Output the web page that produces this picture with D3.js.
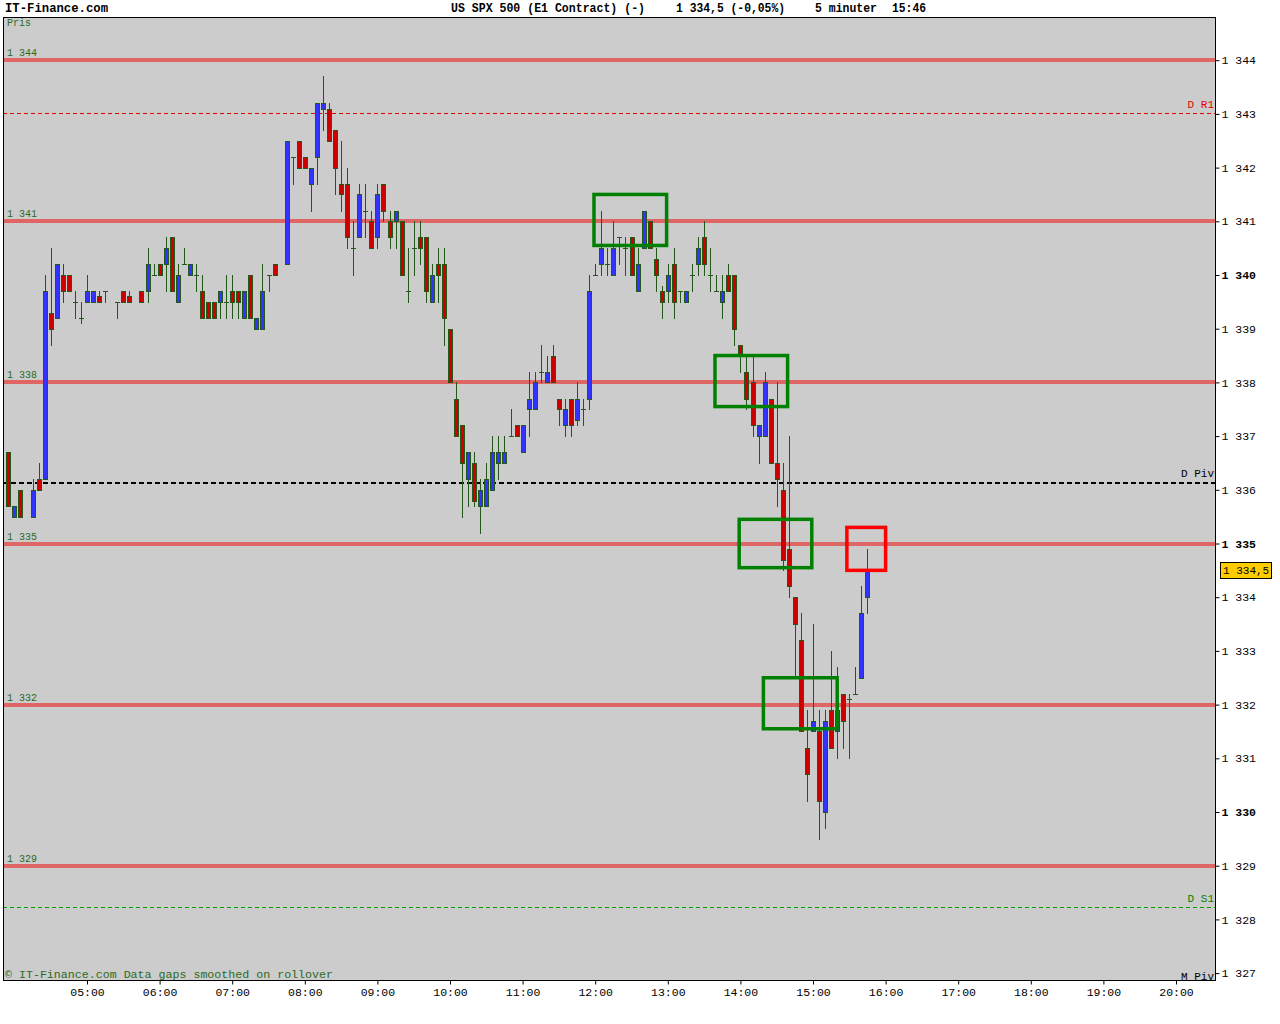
<!DOCTYPE html>
<html><head><meta charset="utf-8">
<script src="https://cdn.jsdelivr.net/npm/d3@7"></script>
<style>body{margin:0;background:#fff}svg{display:block}text{font-family:"Liberation Mono","DejaVu Sans Mono",monospace}</style>
</head><body>
<svg id="c" width="1280" height="1024"></svg>
<script>
// ---- data ----
const candleTimes = ["03:55","04:00","04:05","04:15","04:20","04:25","04:30","04:35","04:40","04:45","04:50","04:55",
"05:00","05:05","05:10","05:15","05:25","05:30","05:35","05:45","05:50","05:55",
"06:00","06:05","06:10","06:15","06:20","06:25","06:30","06:35","06:40","06:45","06:50","06:55",
"07:00","07:05","07:10","07:15","07:20","07:25","07:30","07:35","07:45","07:50","07:55",
"08:00","08:05","08:10","08:15","08:20","08:25","08:30","08:35","08:40","08:45","08:50","08:55",
"09:00","09:05","09:10","09:15","09:20","09:25","09:30","09:35","09:40","09:45","09:50","09:55",
"10:00","10:05","10:10","10:15","10:20","10:25","10:30","10:35","10:40","10:45","10:50","10:55",
"11:00","11:05","11:10","11:15","11:20","11:25","11:30","11:35","11:40","11:45","11:50","11:55",
"12:00","12:05","12:10","12:15","12:20","12:25","12:30","12:35","12:40","12:45","12:50","12:55",
"13:00","13:05","13:10","13:15","13:20","13:25","13:30","13:35","13:40","13:45","13:50","13:55",
"14:00","14:05","14:10","14:15","14:20","14:25","14:30","14:35","14:40","14:45","14:50","14:55",
"15:00","15:05","15:10","15:15","15:20","15:25","15:30","15:35","15:40","15:45"];
const openPrices = [1336.7,1335.5,1336.0,1335.5,1336.2,1336.2,1339.3,1339.2,1340.0,1340.0,1339.5,1339.2,
1339.5,1339.5,1339.6,1339.7,1339.5,1339.7,1339.6,1339.7,1339.7,1340.0,
1340.2,1340.2,1340.7,1339.5,1340.2,1340.0,1340.0,1339.7,1339.5,1339.5,1339.5,1339.5,
1339.7,1339.7,1339.2,1340.0,1339.0,1339.0,1340.0,1340.2,1340.2,1342.2,1342.5,
1342.2,1341.7,1342.2,1343.1,1343.1,1342.7,1341.7,1341.7,1340.5,1340.7,1341.2,1341.0,
1340.7,1341.7,1341.0,1341.0,1341.0,1339.7,1340.5,1340.7,1340.7,1339.5,1340.2,1340.2,
1339.0,1337.7,1337.2,1336.2,1336.5,1335.7,1335.7,1336.0,1336.5,1336.5,1337.0,1337.2,
1336.7,1337.5,1337.5,1338.2,1338.0,1338.5,1337.7,1337.2,1337.7,1337.3,1337.5,1337.7,
1340.0,1340.2,1340.2,1340.0,1340.7,1340.5,1340.7,1339.7,1340.5,1341.0,1340.3,1339.7,
1339.7,1340.2,1339.7,1339.5,1340.0,1340.2,1340.7,1340.0,1339.7,1339.5,1340.0,1340.0,
1338.7,1338.2,1338.0,1337.0,1337.0,1337.7,1336.5,1336.0,1334.9,1334.0,1333.2,1331.2,
1331.5,1331.5,1330.0,1331.9,1331.5,1332.2,1332.1,1332.2,1332.5,1334.0];
const highPrices = [1336.7,1335.7,1336.0,1336.2,1336.5,1340.0,1340.5,1340.2,1340.2,1340.0,1339.7,1339.5,
1340.0,1339.7,1339.7,1339.7,1339.5,1339.7,1339.7,1339.7,1340.5,1340.2,
1340.2,1340.7,1340.7,1340.2,1340.5,1340.2,1340.2,1340.0,1339.5,1339.5,1339.7,1340.0,
1340.0,1339.7,1339.7,1340.0,1339.2,1340.2,1340.0,1340.2,1342.5,1342.2,1342.5,
1342.2,1342.0,1343.2,1343.7,1343.2,1342.7,1342.5,1342.0,1341.0,1341.7,1341.7,1341.2,
1341.7,1341.7,1341.2,1341.2,1341.0,1340.5,1341.0,1341.0,1340.7,1340.2,1340.5,1340.5,
1339.0,1338.0,1337.2,1336.7,1336.7,1336.2,1336.5,1337.0,1337.0,1337.0,1337.5,1337.2,
1337.2,1338.2,1338.2,1338.7,1338.5,1338.7,1337.7,1337.7,1337.7,1338.0,1337.7,1340.0,
1340.2,1341.2,1340.5,1341.0,1340.7,1340.7,1340.7,1340.5,1341.2,1341.0,1340.5,1339.8,
1340.2,1340.5,1339.7,1339.7,1340.2,1340.7,1341.0,1340.5,1340.0,1340.0,1340.2,1340.0,
1338.7,1338.5,1338.5,1337.2,1338.2,1337.7,1338.0,1336.5,1337.0,1334.0,1333.7,1331.9,
1333.5,1331.9,1331.9,1333.0,1332.7,1332.2,1332.2,1332.7,1334.2,1334.9];
const lowPrices = [1335.7,1335.5,1335.5,1335.5,1336.0,1336.2,1338.7,1339.2,1339.5,1339.7,1339.2,1339.1,
1339.5,1339.5,1339.5,1339.5,1339.2,1339.5,1339.5,1339.5,1339.5,1340.0,
1340.0,1339.7,1339.7,1339.5,1340.2,1340.0,1339.7,1339.2,1339.2,1339.2,1339.2,1339.2,
1339.2,1339.2,1339.2,1339.2,1339.0,1339.0,1339.7,1340.0,1340.2,1341.7,1342.0,
1342.0,1341.2,1341.7,1342.7,1342.5,1341.5,1341.2,1340.5,1340.0,1340.7,1340.7,1340.5,
1340.5,1341.0,1340.5,1340.5,1340.0,1339.5,1340.0,1340.2,1339.5,1339.5,1339.5,1338.7,
1338.0,1337.0,1335.5,1335.7,1335.7,1335.2,1335.7,1336.0,1336.2,1336.5,1337.0,1337.0,
1336.7,1337.0,1337.5,1338.0,1338.0,1338.0,1337.2,1337.0,1337.0,1337.2,1337.2,1337.5,
1340.0,1340.0,1340.0,1340.0,1340.2,1340.0,1340.0,1339.7,1340.5,1340.5,1339.7,1339.2,
1339.5,1339.2,1339.5,1339.5,1339.7,1340.0,1340.0,1339.7,1339.7,1339.2,1339.7,1338.7,
1338.2,1337.5,1337.0,1336.5,1337.0,1336.5,1335.7,1334.5,1334.0,1332.5,1331.5,1330.2,
1331.5,1329.5,1329.7,1331.2,1331.0,1331.2,1331.0,1332.2,1332.5,1333.7];
const closePrices = [1335.7,1335.7,1335.5,1336.0,1336.0,1339.7,1339.0,1340.2,1339.7,1339.7,1339.5,1339.2,
1339.7,1339.7,1339.5,1339.7,1339.5,1339.5,1339.5,1339.5,1340.2,1340.0,
1340.0,1340.5,1339.7,1340.0,1340.2,1340.2,1340.0,1339.2,1339.2,1339.2,1339.7,1339.5,
1339.5,1339.5,1339.7,1339.2,1339.2,1339.7,1340.0,1340.0,1342.5,1342.2,1342.0,
1342.0,1342.0,1343.2,1343.2,1342.5,1342.0,1341.5,1340.7,1340.5,1341.5,1341.2,1340.5,
1341.5,1341.2,1340.7,1341.2,1340.0,1339.7,1340.5,1340.5,1339.7,1340.0,1340.0,1339.2,
1338.0,1337.0,1336.5,1336.7,1335.8,1336.0,1336.2,1336.7,1336.7,1336.7,1337.0,1337.0,
1337.2,1337.7,1338.0,1338.2,1338.2,1338.0,1337.5,1337.5,1337.2,1337.7,1337.5,1339.7,
1340.0,1340.5,1340.2,1340.5,1340.7,1340.5,1340.0,1340.2,1341.2,1340.5,1340.0,1339.5,
1340.0,1339.5,1339.7,1339.7,1340.0,1340.5,1340.2,1340.0,1339.7,1339.7,1339.7,1339.0,
1338.5,1337.7,1337.2,1337.2,1338.0,1336.5,1336.2,1334.7,1334.2,1333.5,1331.5,1330.7,
1331.7,1330.2,1331.7,1331.2,1331.9,1331.7,1332.1,1332.2,1333.7,1334.5];

const priceTicks = d3.range(1327, 1345);
const boldTicks = [1330, 1335, 1340];
const hourTicks = ["05:00","06:00","07:00","08:00","09:00","10:00","11:00","12:00","13:00","14:00","15:00","16:00","17:00","18:00","19:00","20:00"];
const levelLines = [1344, 1341, 1338, 1335, 1332, 1329];
const pivotNames = ["D R1", "D Piv", "D S1", "M Piv"];
const pivotValues = [1343.02, 1336.12, 1328.24, 1326.76];
const boxStart = ["11:59", "13:39", "13:59", "14:19"];
const boxEnd = ["12:59", "14:39", "14:59", "15:20"];
const boxTop = [1341.5, 1338.5, 1335.45, 1332.5];
const boxBottom = [1340.55, 1337.55, 1334.55, 1331.55];
const alertStart = ["15:28"], alertEnd = ["16:00"], alertTop = [1335.3], alertBottom = [1334.5];
const lastPrice = 1334.5;

// ---- layout ----
const L = 3, R = 1216, T = 17, B = 981;
const toMin = s => { const [h, m] = s.split(":").map(Number); return h * 60 + m; };
const x = d3.scaleLinear().domain([300, 1200]).range([87, 1176]);
const y = d3.scaleLinear().domain([1344, 1327]).range([60.2, 973.1]);
const fmt = p => { const s = String(p); return s[0] + " " + s.slice(1).replace(".", ","); };

const svg = d3.select("#c");
svg.append("rect").attr("width", 1280).attr("height", 1024).attr("fill", "#fff");
svg.append("defs").append("clipPath").attr("id", "pc").append("rect")
  .attr("x", L).attr("y", T).attr("width", R - L).attr("height", B - T);
svg.append("rect").attr("x", L + 0.5).attr("y", T + 0.5).attr("width", R - L - 1).attr("height", B - T - 1)
  .attr("fill", "#cccccc");

const g = svg.append("g").attr("clip-path", "url(#pc)").attr("shape-rendering", "crispEdges");

// level lines
levelLines.forEach(v => {
  g.append("line").attr("x1", L).attr("x2", R).attr("y1", y(v)).attr("y2", y(v))
    .attr("stroke", "#e06666").attr("stroke-width", 4);
  g.append("text").attr("x", 7).attr("y", y(v) - 4).attr("font-size", 10).attr("fill", "#2d6a1e").text(fmt(v));
});
g.append("text").attr("x", 7).attr("y", 26).attr("font-size", 10).attr("fill", "#2d6a1e").text("Pris");

// pivots
const pivStyle = [
  {c: "#e00000", w: 1, d: "4,3"},
  {c: "#000000", w: 2, d: "5,3"},
  {c: "#00a000", w: 1, d: "4,3"},
  {c: "#000000", w: 2, d: "5,3"}];
pivotValues.forEach((v, i) => {
  const yy = Math.round(y(v)) + (pivStyle[i].w === 1 ? 0.5 : 0);
  g.append("line").attr("x1", L).attr("x2", R).attr("y1", yy).attr("y2", yy)
    .attr("stroke", pivStyle[i].c).attr("stroke-width", pivStyle[i].w).attr("stroke-dasharray", pivStyle[i].d);
  g.append("text").attr("x", 1214).attr("y", yy - 6).attr("text-anchor", "end").attr("font-size", 11)
    .attr("fill", pivStyle[i].c === "#00a000" ? "#008000" : pivStyle[i].c).text(pivotNames[i]);
});

// candles
const wickCol = "#23581a";
candleTimes.forEach((t, i) => {
  const cx = Math.round(x(toMin(t)));
  const o = openPrices[i], c = closePrices[i], h = highPrices[i], l = lowPrices[i];
  g.append("line").attr("x1", cx + 0.5).attr("x2", cx + 0.5)
    .attr("y1", Math.round(y(h))).attr("y2", Math.round(y(l)) + 1)
    .attr("stroke", wickCol).attr("stroke-width", 1);
  if (Math.abs(o - c) < 0.05) {
    g.append("line").attr("x1", cx - 2).attr("x2", cx + 3)
      .attr("y1", Math.round(y(o)) + 0.5).attr("y2", Math.round(y(o)) + 0.5)
      .attr("stroke", wickCol).attr("stroke-width", 1);
  } else {
    const y1 = Math.round(y(Math.max(o, c))), y2 = Math.round(y(Math.min(o, c)));
    g.append("rect").attr("x", cx - 1.5).attr("width", 4)
      .attr("y", y1 + 0.5).attr("height", Math.max(1, y2 - y1))
      .attr("fill", c > o ? "#3333ff" : "#cc0000").attr("stroke", wickCol).attr("stroke-width", 1);
  }
});

// highlight boxes
const bx = svg.append("g").attr("clip-path", "url(#pc)");
boxStart.forEach((s, i) => {
  const x1 = x(toMin(s)), x2 = x(toMin(boxEnd[i]));
  bx.append("rect").attr("x", x1).attr("y", y(boxTop[i])).attr("width", x2 - x1)
    .attr("height", y(boxBottom[i]) - y(boxTop[i]))
    .attr("fill", "none").attr("stroke", "#008000").attr("stroke-width", 3.5);
});
alertStart.forEach((s, i) => {
  const x1 = x(toMin(s)), x2 = x(toMin(alertEnd[i]));
  bx.append("rect").attr("x", x1).attr("y", y(alertTop[i])).attr("width", x2 - x1)
    .attr("height", y(alertBottom[i]) - y(alertTop[i]))
    .attr("fill", "none").attr("stroke", "#ff0000").attr("stroke-width", 3.5);
});

// footer inside plot
svg.append("text").attr("x", 5).attr("y", 978).attr("font-size", 11).attr("fill", "#2d6a1e")
  .attr("textLength", 328).attr("lengthAdjust", "spacingAndGlyphs")
  .text("© IT-Finance.com Data gaps smoothed on rollover");

// frame
svg.append("rect").attr("x", L + 0.5).attr("y", T + 0.5).attr("width", R - L - 1).attr("height", B - T - 1)
  .attr("fill", "none").attr("stroke", "#000").attr("shape-rendering", "crispEdges");

// right axis
const ya = svg.append("g").attr("transform", `translate(${R - 0.5},0)`)
  .call(d3.axisRight(y).tickValues(priceTicks).tickSize(4).tickPadding(2).tickFormat(fmt));
ya.select(".domain").remove();
ya.selectAll("text").attr("font-size", 11.5).attr("font-family", "Liberation Mono").attr("fill", "#000")
  .attr("font-weight", d => boldTicks.includes(d) ? "bold" : "normal");
ya.selectAll("line").attr("stroke", "#000");

// bottom axis
const xa = svg.append("g").attr("transform", `translate(0,${B - 0.5})`)
  .call(d3.axisBottom(x).tickValues(hourTicks.map(toMin)).tickSize(4).tickPadding(3)
    .tickFormat((d, i) => hourTicks[i]));
xa.select(".domain").remove();
xa.selectAll("text").attr("font-size", 11.5).attr("font-family", "Liberation Mono").attr("fill", "#000");
xa.selectAll("line").attr("stroke", "#000");

// last price tag
const ly = y(lastPrice);
svg.append("rect").attr("x", 1220.5).attr("y", Math.round(ly) - 7.5).attr("width", 51).attr("height", 16)
  .attr("fill", "#ffcc00").attr("stroke", "#000");
svg.append("text").attr("x", 1223).attr("y", Math.round(ly) + 4).attr("font-size", 11).attr("fill", "#000")
  .text(fmt(lastPrice));

// header
const hdr = [["IT-Finance.com", 5, 103], ["US SPX 500 (E1 Contract) (-)", 451, 194],
  ["1 334,5 (-0,05%)", 676, 109], ["5 minuter", 815, 62], ["15:46", 892, 34]];
hdr.forEach(([s, hx, w]) => {
  svg.append("text").attr("x", hx).attr("y", 12).attr("font-size", 12).attr("font-weight", "bold")
    .attr("textLength", w).attr("lengthAdjust", "spacingAndGlyphs").attr("fill", "#000").text(s);
});
</script>
</body></html>
